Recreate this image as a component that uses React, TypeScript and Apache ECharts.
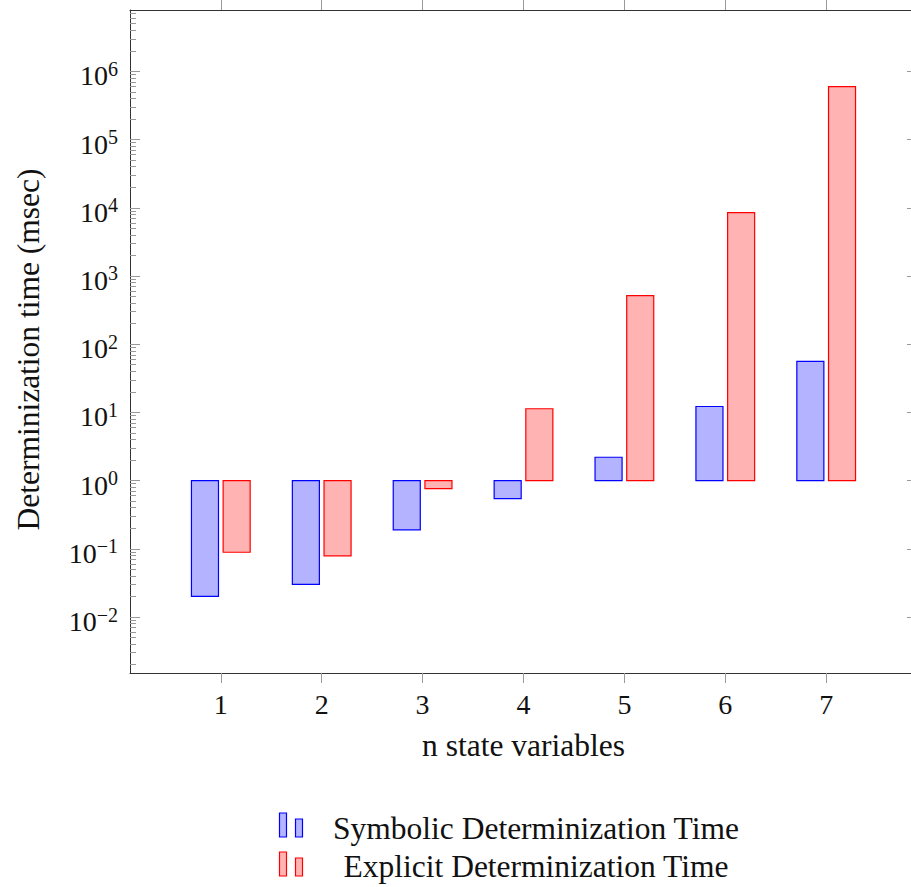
import React, { useEffect, useRef } from 'react';
import * as echarts from 'echarts';

// ---- data ----
const categories = [1, 2, 3, 4, 5, 6, 7];
const symbolicTimes = [0.02, 0.03, 0.19, 0.545, 2.2, 12.2, 56];
const explicitTimes = [0.089, 0.079, 0.76, 11.3, 516, 8500, 598000];
const seriesNames = ['Symbolic Determinization Time', 'Explicit Determinization Time'];
const yMajorTicks = [1e-2, 1e-1, 1, 10, 100, 1e3, 1e4, 1e5, 1e6];
const yMin = 0.00151;
const yMax = 7.94e6;
const xMin = 0.1;
const xMax = 7.9;

const FONT = "'Liberation Serif', 'DejaVu Serif', serif";
const fills = ['#b3b3ff', '#ffb3b3'];
const strokes = ['#0000ff', '#ff0000'];

const yMinorTicks: number[] = [];
for (let k = -3; k <= 6; k++) {
  for (let m = 2; m <= 9; m++) {
    const v = m * Math.pow(10, k);
    if (v >= yMin && v <= yMax) yMinorTicks.push(v);
  }
}

const supText = (e: number) => (e < 0 ? '\u2212' + -e : String(e));

function makeRender(side: number, fill: string, stroke: string) {
  return (params: any, api: any) => {
    const x = api.value(0);
    const v = api.value(1);
    const base = api.coord([x, 1]);
    const next = api.coord([x + 1, 1]);
    const top = api.coord([x, v]);
    const unit = next[0] - base[0];
    const w = 0.268 * unit;
    const cx = base[0] + side * 0.157 * unit;
    return {
      type: 'rect',
      shape: {
        x: cx - w / 2,
        y: Math.min(base[1], top[1]),
        width: w,
        height: Math.abs(top[1] - base[1]),
      },
      style: { fill, stroke, lineWidth: 1.2 },
    };
  };
}

export default function App() {
  const ref = useRef<HTMLDivElement>(null);
  useEffect(() => {
    if (!ref.current) return;
    const chart = echarts.init(ref.current, undefined, { renderer: 'svg' });
    const tickColor = '#999';
    const lineColor = '#333';
    const yAxisBase = {
      type: 'log',
      logBase: 10,
      min: yMin,
      max: yMax,
      splitLine: { show: false },
    };
    const legendGraphics: any[] = [];
    seriesNames.forEach((name, i) => {
      const rowTop = 813 + i * 39;
      legendGraphics.push({
        type: 'rect',
        shape: { x: 279.5, y: rowTop, width: 7, height: 24 },
        style: { fill: fills[i], stroke: strokes[i], lineWidth: 1.2 },
      });
      legendGraphics.push({
        type: 'rect',
        shape: { x: 295.5, y: rowTop + 6, width: 7, height: 18 },
        style: { fill: fills[i], stroke: strokes[i], lineWidth: 1.2 },
      });
      legendGraphics.push({
        type: 'text',
        x: 536,
        y: 828 + i * 38,
        style: {
          text: name,
          fontSize: 31.5,
          fontFamily: FONT,
          fill: '#111',
          align: 'center',
          verticalAlign: 'middle',
        },
      });
    });

    chart.setOption({
      animation: false,
      backgroundColor: '#fff',
      grid: { left: 130, top: 10, width: 787, height: 663, containLabel: false },
      xAxis: [
        {
          type: 'value',
          position: 'bottom',
          min: xMin,
          max: xMax,
          splitLine: { show: false },
          axisLine: { show: true, lineStyle: { color: lineColor, width: 1 } },
          axisTick: { show: true, inside: false, length: 10, customValues: categories, lineStyle: { color: tickColor } },
          axisLabel: {
            show: true,
            customValues: categories,
            margin: 17,
            fontSize: 28,
            fontFamily: FONT,
            color: '#111',
          },
          name: 'n state variables',
          nameLocation: 'middle',
          nameGap: 56,
          nameTextStyle: { fontSize: 31.5, fontFamily: FONT, color: '#111' },
        },
        {
          type: 'value',
          position: 'top',
          min: xMin,
          max: xMax,
          splitLine: { show: false },
          axisLine: { show: true, lineStyle: { color: lineColor, width: 1 } },
          axisTick: { show: true, inside: false, length: 10, customValues: categories, lineStyle: { color: tickColor } },
          axisLabel: { show: false },
        },
      ],
      yAxis: [
        {
          ...yAxisBase,
          position: 'left',
          axisLine: { show: true, lineStyle: { color: lineColor, width: 1 } },
          axisTick: { show: true, inside: true, length: 10, customValues: yMajorTicks, lineStyle: { color: tickColor } },
          axisLabel: {
            show: true,
            customValues: yMajorTicks,
            margin: 12,
            padding: [9, 0, 0, 0],
            formatter: (val: number) => {
              const e = Math.round(Math.log10(val));
              return `{b|10}{s|${supText(e)}}`;
            },
            rich: {
              b: { fontSize: 28, lineHeight: 34, fontFamily: FONT, color: '#111' },
              s: { fontSize: 20, lineHeight: 20, verticalAlign: 'top', fontFamily: FONT, color: '#111' },
            },
          },
          name: 'Determinization time (msec)',
          nameLocation: 'middle',
          nameGap: 86,
          nameTextStyle: { fontSize: 31.5, fontFamily: FONT, color: '#111', padding: [0, 16, 0, 0] },
        },
        {
          ...yAxisBase,
          position: 'left',
          axisLine: { show: false },
          axisTick: { show: true, inside: true, length: 6, customValues: yMinorTicks, lineStyle: { color: tickColor } },
          axisLabel: { show: false },
        },
        {
          ...yAxisBase,
          position: 'right',
          axisLine: { show: true, lineStyle: { color: lineColor, width: 1 } },
          axisTick: { show: true, inside: true, length: 10, customValues: yMajorTicks, lineStyle: { color: tickColor } },
          axisLabel: { show: false },
        },
        {
          ...yAxisBase,
          position: 'right',
          axisLine: { show: false },
          axisTick: { show: true, inside: true, length: 6, customValues: yMinorTicks, lineStyle: { color: tickColor } },
          axisLabel: { show: false },
        },
      ],
      series: [
        {
          name: seriesNames[0],
          type: 'custom',
          xAxisIndex: 0,
          yAxisIndex: 0,
          renderItem: makeRender(-1, fills[0], strokes[0]),
          data: categories.map((c, i) => [c, symbolicTimes[i]]),
        },
        {
          name: seriesNames[1],
          type: 'custom',
          xAxisIndex: 0,
          yAxisIndex: 0,
          renderItem: makeRender(1, fills[1], strokes[1]),
          data: categories.map((c, i) => [c, explicitTimes[i]]),
        },
      ],
      graphic: legendGraphics,
    });
    return () => chart.dispose();
  }, []);

  return (
    <div
      style={{ position: 'absolute', left: 0, top: 0, width: 911, height: 887, overflow: 'hidden', background: '#fff' }}
    >
      <div ref={ref} style={{ width: 930, height: 887 }} />
    </div>
  );
}
